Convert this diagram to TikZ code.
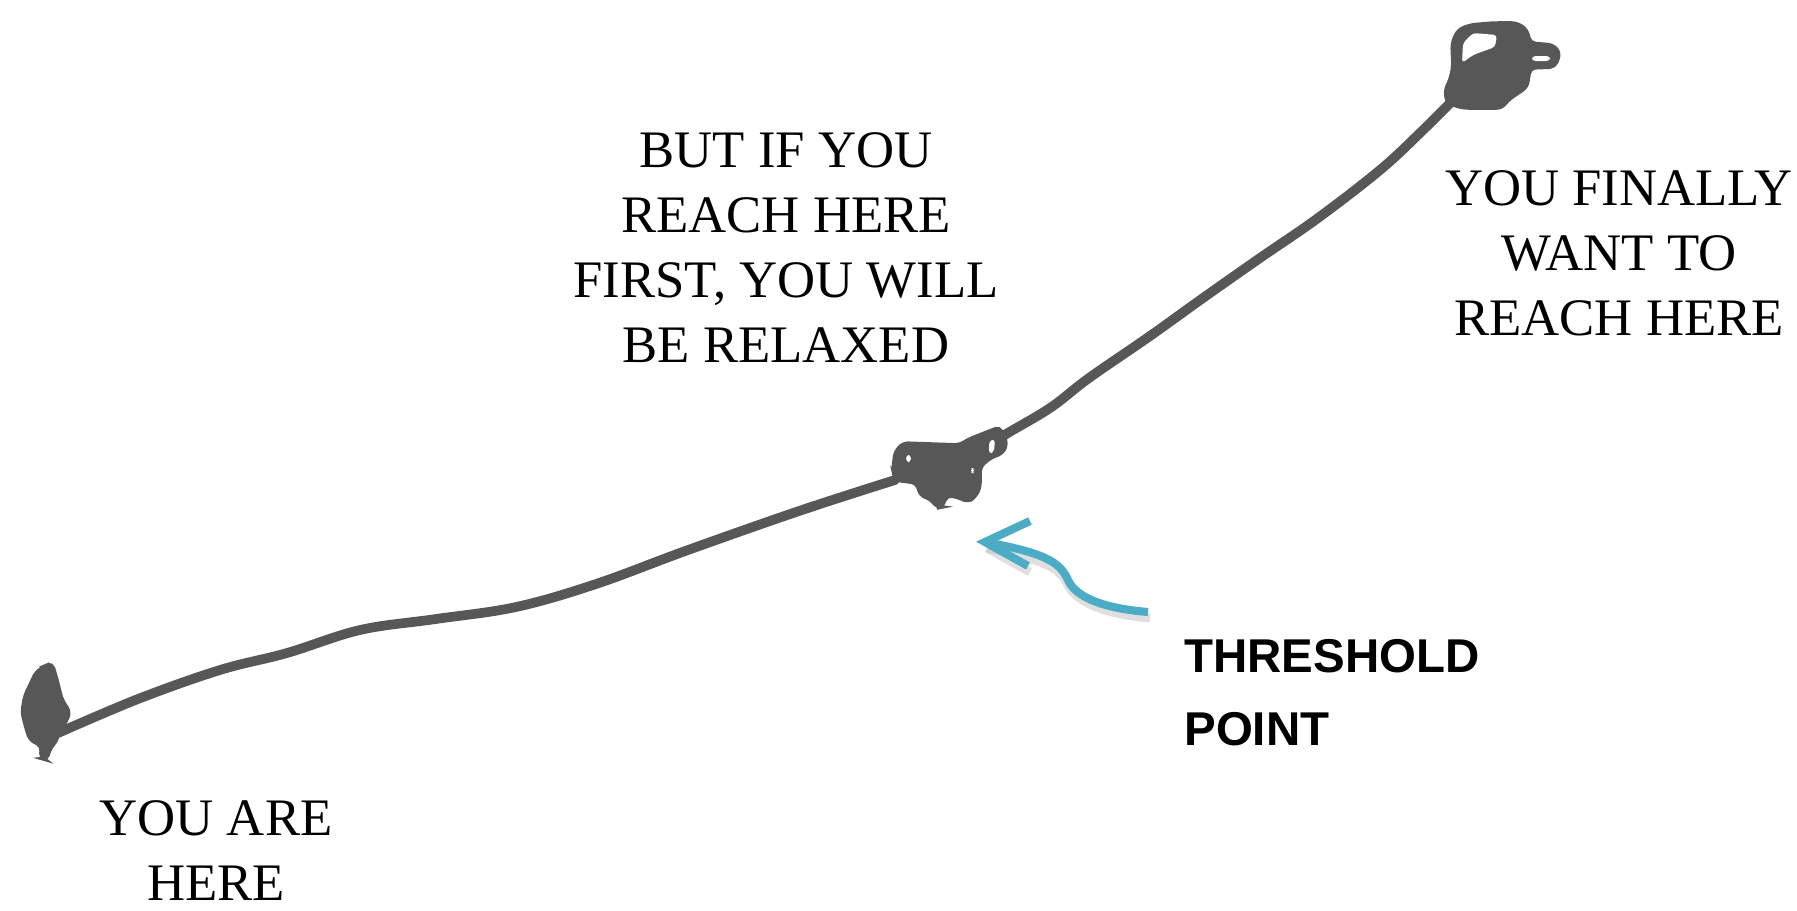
\documentclass[tikz,border=0pt]{standalone}
\usepackage{fontspec}
\setmainfont{Liberation Serif}
\newfontfamily\boldsans{Liberation Sans}
\definecolor{ink}{HTML}{575757}
\definecolor{arrowblue}{HTML}{4BACC6}
\tikzset{
  road/.style={draw=ink, line width=5.5pt, line cap=round, line join=round},
  blob/.style={fill=ink, draw=ink, line width=2pt, rounded corners=3pt},
  hole/.style={fill=white, draw=none, rounded corners=2pt},
  label/.style={inner sep=0pt, align=center, font=\fontsize{30}{37}\selectfont},
  tag/.style={inner sep=0pt, align=left, font=\boldsans\bfseries\fontsize{27}{41.5}\selectfont},
  pointer/.style={draw=arrowblue, line width=4.6pt, line join=miter},
  pshadow/.style={draw=black!25, line width=5pt, opacity=0.5}
}
\begin{document}
\begin{tikzpicture}[x=0.02cm,y=-0.02cm]
\useasboundingbox (0,0) rectangle (1797,910);
% key coordinates
\coordinate (start) at (58,733);
\coordinate (mid) at (945,470);
\coordinate (goal) at (1458,95);
% the road
\draw[road] plot[smooth, tension=0.6] coordinates {(start) (138,699) (220,670) (287,653) (360,630) (436,619) (516,607) (596,584) (688,550) (802,510) (895,480)};
\draw[road] plot[smooth, tension=0.6] coordinates {(985,450) (1003,436) (1050,408) (1089,378) (1150,336) (1203,298) (1260,258) (1318,218) (1380,170) (1421,132) (goal)};
% start blob
\fill[blob] (45,666) -- (52,663) -- (57,680) -- (62,700) -- (70,712) -- (66,722) -- (60,730) -- (56,742) -- (50,748) -- (47,760) -- (40,758) -- (42,746) -- (30,740) -- (26,728) -- (22,712) -- (25,695) -- (30,685) -- (36,672) -- cycle;
% middle blob
\fill[blob] (895,452) -- (903,443) -- (960,445) -- (967,440) -- (987,432) -- (1000,427) -- (1007,443) -- (1003,453) -- (990,458) -- (980,467) -- (980,488) -- (975,497) -- (968,502) -- (960,498) -- (947,495) -- (942,507) -- (937,508) -- (932,500) -- (920,495) -- (917,483) -- (895,480) -- (893,470) -- cycle;
\fill[hole] (906,455) rectangle (911,462);
\fill[hole] (989,441) -- (995,439) -- (994,452) -- (989,454) -- cycle;
\fill[hole] (971,468) rectangle (974,473);
% end blob
\fill[blob] (1445,90) -- (1450,80) -- (1453,67) -- (1452,43) -- (1458,30) -- (1470,25) -- (1493,23) -- (1517,23) -- (1527,30) -- (1530,43) -- (1553,45) -- (1560,53) -- (1555,67) -- (1530,68) -- (1527,87) -- (1508,100) -- (1502,108) -- (1463,108) -- (1447,103) -- cycle;
\fill[hole] (1462,63) -- (1463,43) -- (1473,33) -- (1497,35) -- (1495,47) -- (1473,55) -- cycle;
\fill[hole] (1532,56) rectangle (1550,61);
% texts
\node[label, anchor=north] (firsttext) at (786,132) {BUT IF YOU\\REACH HERE\\FIRST, YOU WILL\\BE RELAXED};
\node[label, anchor=north] (goaltext) at (1619,170) {YOU FINALLY\\WANT TO\\REACH HERE};
\node[label, anchor=north] (starttext) at (216,800) {YOU ARE\\HERE};
\node[tag, anchor=north west] (threshold) at (1184,639) {THRESHOLD\\POINT};
% blue arrow
\coordinate (arrtail) at (1148,612);
\coordinate (arrtip) at (985,542);
\coordinate (armA) at (1030,521);
\coordinate (armB) at (1028,566);
\draw[pshadow] ([shift={(2,6)}]arrtail) .. controls (1100,614) and (1075,600) .. (1068,585) .. controls (1060,568) and (1045,560) .. ([shift={(2,6)}]arrtip);
\draw[pshadow] ([shift={(2,6)}]armB) -- ([shift={(2,6)}]arrtip);
\draw[pointer] (arrtail) .. controls (1100,608) and (1075,596) .. (1068,580) .. controls (1060,562) and (1045,553) .. (arrtip);
\draw[pointer] (armA) -- (arrtip) -- (armB);
\end{tikzpicture}
\end{document}
